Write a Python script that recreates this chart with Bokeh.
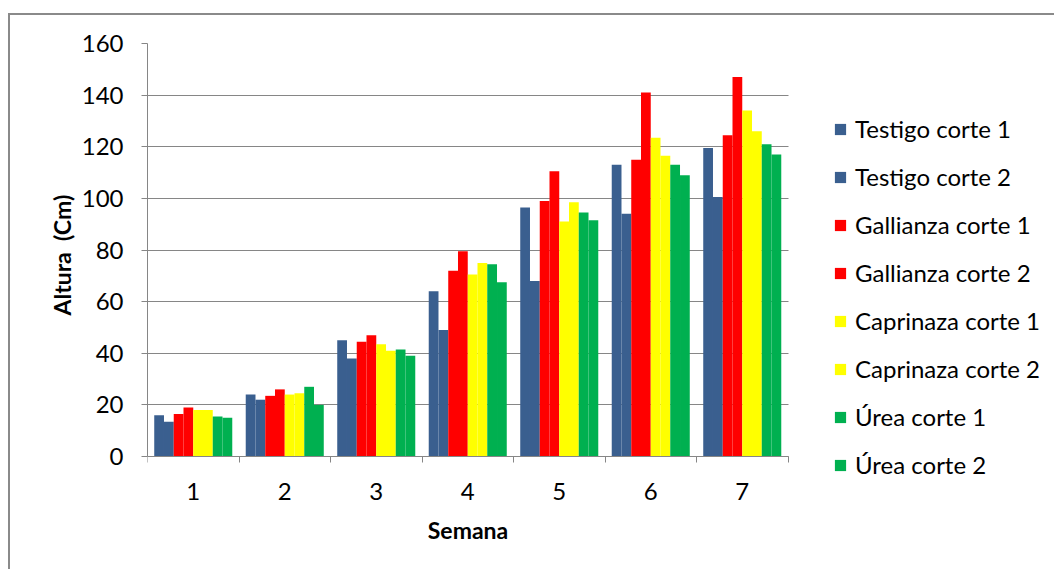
from bokeh.plotting import figure
from bokeh.models import ColumnDataSource, FixedTicker, Legend, LegendItem, Range1d, Title
from bokeh.transform import dodge
from bokeh.embed import file_html
from bokeh.resources import INLINE

semana = [1, 2, 3, 4, 5, 6, 7]
series_names = ["Testigo corte 1", "Testigo corte 2", "Gallianza corte 1", "Gallianza corte 2",
                "Caprinaza corte 1", "Caprinaza corte 2", "Úrea corte 1", "Úrea corte 2"]
testigo_1 = [16, 24, 45, 64, 96.5, 113, 119.5]
testigo_2 = [13.5, 22, 38, 49, 68, 94, 100.5]
gallianza_1 = [16.5, 23.5, 44.5, 72, 99, 115, 124.5]
gallianza_2 = [19, 26, 47, 79.5, 110.5, 141, 147]
caprinaza_1 = [18, 24, 43.5, 70.5, 91, 123.5, 134]
caprinaza_2 = [18, 24.5, 41, 75, 98.5, 116.5, 126]
urea_1 = [15.5, 27, 41.5, 74.5, 94.5, 113, 121]
urea_2 = [15, 20, 39, 67.5, 91.5, 109, 117]
y_ticks = [0, 20, 40, 60, 80, 100, 120, 140, 160]

values = [testigo_1, testigo_2, gallianza_1, gallianza_2, caprinaza_1, caprinaza_2, urea_1, urea_2]
colors = ["#3A5F8F", "#3A5F8F", "#FF0000", "#FF0000", "#FFFF00", "#FFFF00", "#00B050", "#00B050"]

data = {"semana": semana}
for i, v in enumerate(values):
    data[f"s{i}"] = v
source = ColumnDataSource(data)

FONT = "Lato"

# frame spans the whole drawing area (incl. legend space); axes are pinned to the data area
W, H = 1046, 556
ML, MT = 137, 28
frame_w = W - ML
frame_h = H - MT
px_per_week = 91.5
px_per_unit = 413 / 160.0
x_end = 0.5 + frame_w / px_per_week
y_start = 160 - frame_h / px_per_unit

p = figure(width=W, height=H, output_backend="svg", toolbar_location=None,
           x_range=Range1d(0.5, x_end), y_range=Range1d(y_start, 160),
           min_border_left=ML, min_border_right=0, min_border_top=MT, min_border_bottom=0,
           outline_line_color=None)
p.styles = {"border-top": "2px solid #8a8a8a", "border-left": "2px solid #8a8a8a",
            "margin-top": "13px", "margin-left": "8px"}

bw = 0.1066
renderers = []
for i in range(8):
    off = (i - 3.5) * bw
    r = p.vbar(x=dodge("semana", off, range=p.x_range), top=f"s{i}", bottom=0, width=bw,
               source=source, fill_color=colors[i], line_color=None)
    renderers.append(r)

p.xgrid.visible = False
grid = p.ygrid[0]
grid.ticker = FixedTicker(ticks=y_ticks)
grid.grid_line_color = "#868686"
grid.grid_line_width = 1
if "cross_bounds" in grid.properties():
    grid.cross_bounds = (0.5, 7.5)
    grid.bounds = (0, 160)
else:
    grid.visible = False
    p.segment(x0=0.5, x1=7.5, y0=y_ticks, y1=y_ticks, line_color="#868686", line_width=1,
              level="underlay")

p.xaxis.ticker = FixedTicker(ticks=semana, minor_ticks=[k + 0.5 for k in range(0, 8)])
p.yaxis.ticker = FixedTicker(ticks=y_ticks)
p.xaxis.bounds = (0.5, 7.5)
p.yaxis.bounds = (0, 160)
p.xaxis.fixed_location = 0

for ax in (p.xaxis, p.yaxis):
    ax.axis_line_color = "#868686"
    ax.major_tick_line_color = "#868686"
    ax.minor_tick_line_color = "#868686"
    ax.major_label_text_font = FONT
    ax.major_label_text_font_size = "24px"
    ax.major_label_text_color = "#000000"
    ax.axis_label_text_font = FONT
    ax.axis_label_text_font_size = "23px"
    ax.axis_label_text_font_style = "bold"
    ax.axis_label_text_color = "#000000"

p.xaxis.major_tick_out = 0
p.xaxis.major_tick_in = 0
p.xaxis.minor_tick_out = 6
p.xaxis.minor_tick_in = 0
p.xaxis.major_label_standoff = 20
p.xaxis.axis_label = "Semana"
p.xaxis.axis_label_standoff = 13

p.yaxis.major_tick_out = 6
p.yaxis.major_tick_in = 0
p.yaxis.minor_tick_out = 0
p.yaxis.minor_tick_in = 0
p.yaxis.major_label_standoff = 18

# y-axis title, placed along the data area (0..160) rather than the whole frame
ytitle = Title(text="Altura \u00a0(Cm)", align="left", offset=256,
               text_font=FONT, text_font_size="23px", text_font_style="bold",
               text_color="#000000", standoff=6)
p.add_layout(ytitle, "left")

items = [LegendItem(label=series_names[i], renderers=[renderers[i]]) for i in range(8)]
legend = Legend(items=items, location=(686, 92), orientation="vertical",
                label_text_font=FONT, label_text_font_size="24px", label_text_color="#000000",
                glyph_width=14, glyph_height=14, label_height=29, spacing=19,
                label_standoff=8, padding=0, margin=0,
                border_line_color=None, background_fill_alpha=0)
p.add_layout(legend, "center")

open("out.html", "w").write(file_html(p, INLINE))
